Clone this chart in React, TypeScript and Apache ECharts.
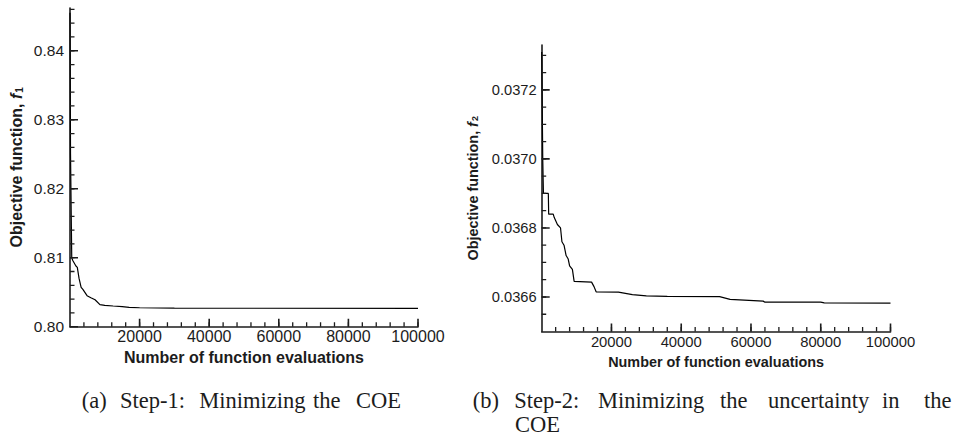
import React, { useEffect, useRef } from "react";
import * as echarts from "echarts";

// ---- data ----
const leftEvals = [0, 150, 500, 800, 1700, 2100, 2600, 3200, 3700, 4900, 6000, 7200, 8600, 10000, 12400, 15000, 17000, 20000, 30000, 100000];
const leftF1 = [0.8455, 0.825, 0.8100, 0.8096, 0.8088, 0.8086, 0.8070, 0.8057, 0.8054, 0.8045, 0.8042, 0.8039, 0.8032, 0.8031, 0.8030, 0.8029, 0.8028, 0.80275, 0.80268, 0.80266];

const rightEvals = [0, 300, 500, 1900, 2000, 3300, 3600, 4500, 5400, 5800, 6400, 7000, 7600, 8000, 8800, 9300, 14300, 15000, 15600, 22000, 26000, 30000, 36000, 51000, 54000, 63500, 64000, 80000, 81000, 100000];
const rightF2 = [0.03731, 0.03700, 0.03690, 0.03690, 0.03684, 0.03684, 0.03683, 0.03681, 0.03680, 0.03676, 0.03675, 0.03672, 0.03671, 0.03669, 0.03668, 0.036645, 0.036643, 0.03663, 0.036615, 0.036614, 0.036607, 0.036603, 0.036602, 0.036601, 0.036593, 0.036588, 0.036585, 0.036585, 0.036583, 0.036582];

// axis ranges and tick labels
const xRange = [0, 100000];
const xMajorStep = 20000;
const xMinorStep = 4000;

const leftYRange = [0.8, 0.8462];
const leftYLabels = [0.8, 0.81, 0.82, 0.83, 0.84];
const leftYMinorStep = 0.002;

const rightYRange = [0.0365, 0.03733];
const rightYLabels = [0.0366, 0.0368, 0.037, 0.0372];
const rightYMinorStep = 0.00005;

const captionA = ["(a)", "Step-1:", "Minimizing", "the", "COE"];
const captionB1 = ["(b)", "Step-2:", "Minimizing", "the", "uncertainty", "in", "the"];
const captionB2 = ["COE"];

const SANS = "'Liberation Sans', Arial, Helvetica, sans-serif";
const SERIF = "'Liberation Serif', 'Times New Roman', serif";
const INK = "#1c1c1c";
const W = 962;
const H = 436;

type Panel = { left: number; right: number; top: number; bottom: number };
const PL: Panel = { left: 70, right: 418, top: 8, bottom: 326.7 };
const PR: Panel = { left: 541.7, right: 890.5, top: 45, bottom: 331.5 };

function steps(start: number, end: number, step: number, digits: number) {
  const out: number[] = [];
  const n = Math.round((end - start) / step);
  for (let i = 0; i <= n; i++) out.push(Number((start + i * step).toFixed(digits)));
  return out;
}

const xMajorTicks = steps(xMajorStep, xRange[1], xMajorStep, 0);
const xMinorTicks = steps(xMinorStep, xRange[1], xMinorStep, 0);
const leftYMinorTicks = steps(leftYRange[0] + leftYMinorStep, 0.846, leftYMinorStep, 4);
const rightYMinorTicks = steps(rightYRange[0] + rightYMinorStep, 0.0373, rightYMinorStep, 6);

export default function App() {
  const ref = useRef<HTMLDivElement>(null);

  useEffect(() => {
    if (!ref.current) return;
    const chart = echarts.init(ref.current, undefined, { renderer: "svg" });

    const grids = [
      { left: PL.left, right: W - PL.right, top: PL.top, bottom: H - PL.bottom },
      { left: PR.left, right: W - PR.right, top: PR.top, bottom: H - PR.bottom },
    ];

    const xAxis = (gridIndex: number, fontSize: number, margin: number, nameSize: number, nameGap: number) => ({
      type: "value",
      gridIndex,
      position: "bottom",
      min: xRange[0],
      max: xRange[1],
      interval: xMajorStep,
      splitLine: { show: false },
      axisTick: { show: false },
      axisLine: { show: true, onZero: false, lineStyle: { color: INK, width: 1.6 } },
      axisLabel: { show: true, margin, color: INK, fontSize, fontFamily: SANS, formatter: (v: number) => (v === 0 ? "" : String(v)) },
      name: "Number of function evaluations",
      nameLocation: "middle",
      nameGap,
      nameTextStyle: { color: INK, fontSize: nameSize, fontWeight: "bold", fontFamily: SANS },
    });

    const yAxis = (
      gridIndex: number,
      yr: number[],
      labels: number[],
      digits: number,
      fontSize: number,
      margin: number,
      nameSize: number,
      nameGap: number,
      sub: string
    ) => ({
      type: "value",
      gridIndex,
      position: "left",
      min: yr[0],
      max: yr[1],
      splitLine: { show: false },
      axisTick: { show: false },
      axisLine: { show: true, onZero: false, lineStyle: { color: INK, width: 1.6 } },
      axisLabel: { show: true, customValues: labels, margin, color: INK, fontSize, fontFamily: SANS, formatter: (v: number) => v.toFixed(digits) },
      name: "Objective function, {f|f}{s|" + sub + "}",
      nameLocation: "middle",
      nameGap,
      nameTextStyle: {
        color: INK,
        fontSize: nameSize,
        fontWeight: "bold",
        fontFamily: SANS,
        rich: {
          f: { fontSize: nameSize, fontWeight: "bold", fontStyle: "italic", fontFamily: SANS, color: INK },
          s: { fontSize: Math.round(nameSize * 0.6), fontWeight: "bold", fontFamily: SANS, color: INK, verticalAlign: "bottom", padding: [0, 0, 0, 1] },
        },
      },
    });

    // tick marks as short broken line segments, placed through the axes' scales
    const tickLines = (axisIndex: number, p: Panel, yr: number[], dir: "x" | "y", values: number[], lenPx: number, w: number) => {
      const data: any[] = [];
      if (dir === "x") {
        const dy = (lenPx / (p.bottom - p.top)) * (yr[1] - yr[0]);
        values.forEach((v) => {
          data.push([v, yr[0]], [v, yr[0] + dy], [v, "-"]);
        });
      } else {
        const dx = (lenPx / (p.right - p.left)) * (xRange[1] - xRange[0]);
        values.forEach((v) => {
          data.push([xRange[0], v], [xRange[0] + dx, v], ["-", v]);
        });
      }
      return {
        type: "line",
        xAxisIndex: axisIndex,
        yAxisIndex: axisIndex,
        showSymbol: false,
        symbol: "none",
        connectNulls: false,
        clip: false,
        silent: true,
        z: 3,
        lineStyle: { color: INK, width: w, cap: "butt" },
        emphasis: { disabled: true },
        data,
      };
    };

    const capText = (words: string[], xs: number[], y: number) =>
      words.map((w, i) => ({
        type: "text",
        x: xs[i],
        y,
        silent: true,
        style: { text: w, fontSize: 22.5, fontFamily: SERIF, fill: INK, align: "left", verticalAlign: "middle" },
      }));

    chart.setOption({
      animation: false,
      backgroundColor: "#ffffff",
      grid: grids,
      xAxis: [xAxis(0, 16, 2, 16, 17.8), xAxis(1, 14.8, 3.3, 14.4, 16.3)],
      yAxis: [
        yAxis(0, leftYRange, leftYLabels, 2, 15.5, 6, 16, 46, "1"),
        yAxis(1, rightYRange, rightYLabels, 4, 14.7, 5, 14.4, 62, "2"),
      ],
      series: [
        {
          type: "line",
          xAxisIndex: 0,
          yAxisIndex: 0,
          showSymbol: false,
          symbol: "none",
          lineStyle: { color: "#000", width: 1.2 },
          data: leftEvals.map((x, i) => [x, leftF1[i]]),
        },
        {
          type: "line",
          xAxisIndex: 1,
          yAxisIndex: 1,
          showSymbol: false,
          symbol: "none",
          lineStyle: { color: "#000", width: 1.2 },
          data: rightEvals.map((x, i) => [x, rightF2[i]]),
        },
        tickLines(0, PL, leftYRange, "x", xMajorTicks, 8, 1.6),
        tickLines(0, PL, leftYRange, "x", xMinorTicks, 4.5, 1.3),
        tickLines(0, PL, leftYRange, "y", leftYLabels, 8, 1.6),
        tickLines(0, PL, leftYRange, "y", leftYMinorTicks, 4.5, 1.3),
        tickLines(1, PR, rightYRange, "x", xMajorTicks, 8, 1.6),
        tickLines(1, PR, rightYRange, "x", xMinorTicks, 4.5, 1.3),
        tickLines(1, PR, rightYRange, "y", rightYLabels, 8, 1.6),
        tickLines(1, PR, rightYRange, "y", rightYMinorTicks, 4.5, 1.3),
      ],
      graphic: [
        ...capText(captionA, [81.7, 120, 199.3, 313, 356], 400.5),
        ...capText(captionB1, [472.7, 514.3, 598, 720, 768, 882, 924], 400.5),
        ...capText(captionB2, [515], 424.5),
      ],
    });

    return () => chart.dispose();
  }, []);

  return <div ref={ref} style={{ position: "fixed", left: 0, top: 0, width: W, height: H, background: "#fff" }} />;
}
